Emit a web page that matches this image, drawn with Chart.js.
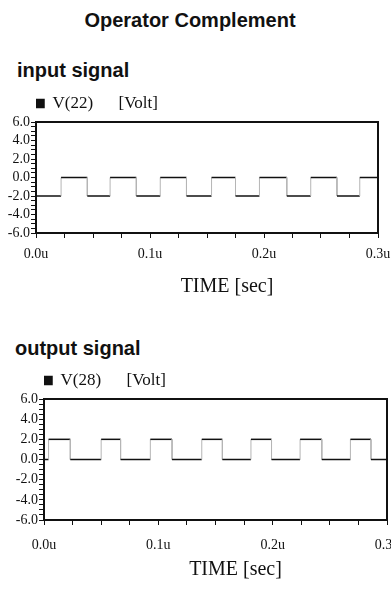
<!doctype html>
<html>
<head>
<meta charset="utf-8">
<title>Operator Complement</title>
<script src="https://cdn.jsdelivr.net/npm/chart.js@4.4.1/dist/chart.umd.min.js"></script>
<style>
  html, body { margin: 0; padding: 0; background: #fff; }
  body { width: 391px; height: 593px; overflow: hidden; position: relative; }
  .head {
    position: absolute; font: bold 20px/24px "Liberation Sans", Arial, sans-serif; color: #111;
  }
  #head { left: 0; top: 8px; width: 380px; text-align: center; }
  #t1 { left: 17px; top: 58px; }
  #t2 { left: 15px; top: 336px; }
  #c1 { position: absolute; left: 0; top: 50px; }
  #c2 { position: absolute; left: 0; top: 330px; }
</style>
</head>
<body>
<div class="head" id="head">Operator Complement</div>
<div class="head" id="t1">input signal</div>
<div class="head" id="t2">output signal</div>
<canvas id="c1" width="391" height="250"></canvas>
<canvas id="c2" width="400" height="263"></canvas>

<script>
// transition times (u sec) and the level held until the next time
var inputTimes  = [0, 0.022, 0.045, 0.065, 0.088, 0.109, 0.132, 0.154, 0.175, 0.196, 0.220, 0.241, 0.264, 0.284, 0.3];
var inputLevels = [-2, 0, -2, 0, -2, 0, -2, 0, -2, 0, -2, 0, -2, 0];

var outputTimes  = [0, 0.004, 0.023, 0.050, 0.067, 0.093, 0.112, 0.138, 0.156, 0.181, 0.199, 0.224, 0.243, 0.268, 0.286, 0.3];
var outputLevels = [0, 2, 0, 2, 0, 2, 0, 2, 0, 2, 0, 2, 0, 2, 0];

var yTickLabels = { '6': '6.0', '4': '4.0', '2': '2.0', '0': '0.0', '-2': '-2.0', '-4': '-4.0', '-6': '-6.0' };
var xTickLabels = ['0.0u', '0.1u', '0.2u', '0.3u'];

function stepPoints(times, levels) {
  var pts = [];
  for (var i = 0; i < levels.length; i++) {
    pts.push({ x: times[i], y: levels[i] });
    pts.push({ x: times[i + 1], y: levels[i] });
  }
  return pts;
}

var serif = '"Liberation Serif", "Times New Roman", serif';

// box round the plot + the TIME caption (sits a bit right of centre in the original)
var frame = {
  id: 'frame',
  afterDraw: function(chart, args, opts) {
    var a = chart.chartArea, ctx = chart.ctx;
    ctx.save();
    ctx.strokeStyle = '#111';
    ctx.lineWidth = 2;
    ctx.strokeRect(a.left, a.top, a.right - a.left, a.bottom - a.top);
    ctx.fillStyle = '#111';
    ctx.font = '20px ' + serif;
    ctx.textAlign = 'center';
    ctx.textBaseline = 'middle';
    ctx.fillText('TIME [sec]', (a.left + a.right) / 2 + 20, opts.captionY);
    ctx.restore();
  }
};

function makeChart(id, label, pts, yWidth, padTop, xHeight, xPad, captionY) {
  return new Chart(document.getElementById(id), {
    type: 'line',
    data: {
      datasets: [{
        label: label,
        data: pts,
        borderColor: '#111',
        backgroundColor: '#111',
        borderWidth: 1.5,
        pointRadius: 0,
        tension: 0,
        segment: {
          borderColor: function(c) { return c.p0.parsed.x === c.p1.parsed.x ? '#b5b5b5' : '#111'; },
          borderWidth: function(c) { return c.p0.parsed.x === c.p1.parsed.x ? 1 : 1.5; }
        }
      }]
    },
    options: {
      responsive: false,
      animation: false,
      layout: { padding: { left: 0, right: 13, top: padTop, bottom: 0 } },
      plugins: {
        tooltip: { enabled: false },
        title: { display: false },
        frame: { captionY: captionY },
        legend: {
          display: true, position: 'top', align: 'start', fullSize: false,
          labels: {
            color: '#111', boxWidth: 8, boxHeight: 8, padding: 0,
            font: { family: serif, size: 17 }
          }
        }
      },
      scales: {
        x: {
          type: 'linear', min: 0, max: 0.3,
          afterFit: function(s) { s.height = xHeight; s.paddingLeft = 0; s.paddingRight = 0; },
          ticks: {
            stepSize: 0.025, autoSkip: false, maxRotation: 0, padding: xPad,
            color: '#111', font: { family: serif, size: 14 },
            callback: function(v) {
              var k = Math.round(v / 0.1);
              return Math.abs(v - k * 0.1) < 1e-6 ? xTickLabels[k] : '';
            }
          },
          grid: { drawOnChartArea: false, drawTicks: true, tickLength: 5, color: '#111' },
          border: { display: true, color: '#111', width: 2 }
        },
        y: {
          min: -6, max: 6,
          afterFit: function(s) { s.width = yWidth; },
          ticks: {
            stepSize: 0.5, autoSkip: false, padding: 1,
            color: '#111', font: { family: serif, size: 14 },
            callback: function(v) { return yTickLabels[String(v)] || ''; }
          },
          grid: { drawOnChartArea: false, drawTicks: true, tickLength: 5, color: '#111' },
          border: { display: true, color: '#111', width: 2 }
        }
      }
    },
    plugins: [frame]
  });
}

makeChart('c1', 'V(22)      [Volt]', stepPoints(inputTimes, inputLevels), 36, 45, 67, 8, 237);
makeChart('c2', 'V(28)      [Volt]', stepPoints(outputTimes, outputLevels), 44, 42, 73, 12, 240);
</script>
</body>
</html>
